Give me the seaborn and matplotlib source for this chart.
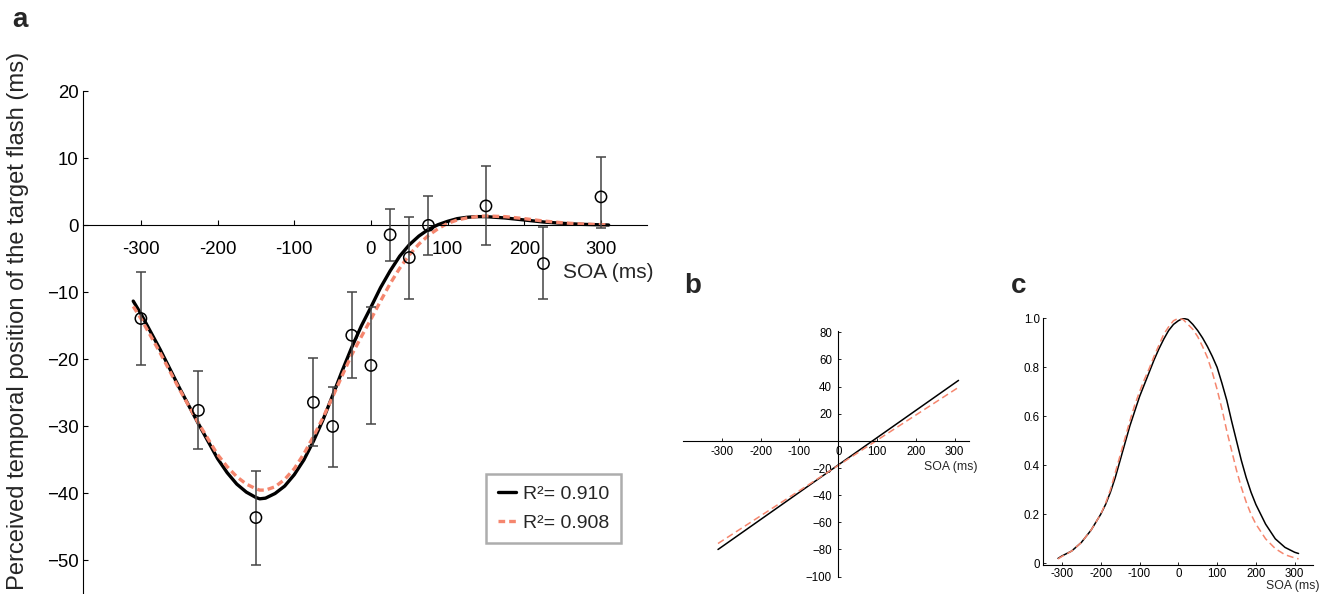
import numpy as np
import pandas as pd
import matplotlib
matplotlib.use("Agg")
import matplotlib.pyplot as plt
import seaborn as sns

# ---------------- data ----------------
# Panel a: observed points
soa = [-300, -225, -150, -75, -50, -25, 0, 25, 50, 75, 150, 225, 300]
perceived = [-13.9, -27.6, -43.6, -26.4, -30.0, -16.4, -20.9, -1.4, -4.8, 0.0, 2.9, -5.7, 4.25]
err_low = [7.0, 5.8, 7.0, 6.5, 6.1, 6.3, 8.7, 3.9, 6.2, 4.4, 5.8, 5.3, 4.6]
err_high = [7.0, 5.9, 6.9, 6.6, 5.9, 6.4, 8.7, 3.9, 6.0, 4.4, 5.9, 5.4, 5.9]

# Panel a: fitted curves
fit_x = [-310, -300, -275, -250, -225, -200, -187.5, -175, -162.5, -150, -145, -137.5,
         -125, -112.5, -100, -87.5, -75, -62.5, -50, -37.5, -25, -12.5, 0, 12.5, 25,
         37.5, 50, 62.5, 75, 87.5, 100, 112.5, 125, 137.5, 150, 175, 200, 225, 250,
         275, 300, 310]
fit_black = [-11.3, -13.2, -18.5, -24.2, -29.6, -34.8, -36.9, -38.6, -39.8, -40.6, -40.8,
             -40.7, -40.0, -38.9, -37.2, -35.0, -32.2, -29.0, -25.4, -21.7, -18.2, -15.0,
             -12.2, -9.3, -6.8, -4.6, -2.9, -1.6, -0.6, 0.1, 0.6, 1.0, 1.2, 1.3, 1.3,
             1.1, 0.8, 0.5, 0.3, 0.15, 0.08, 0.05]
fit_red = [-12.1, -13.9, -19.0, -24.4, -29.5, -34.2, -36.0, -37.5, -38.6, -39.3, -39.5,
           -39.5, -39.0, -37.9, -36.3, -34.1, -31.5, -28.7, -25.6, -22.4, -19.3, -16.6,
           -14.0, -11.3, -8.7, -6.4, -4.4, -2.8, -1.5, -0.5, 0.3, 0.8, 1.1, 1.3, 1.4,
           1.3, 1.0, 0.65, 0.38, 0.2, 0.1, 0.08]
legend_labels = ["R\u00b2= 0.910", "R\u00b2= 0.908"]

# Panel b: linear components
lin_x = [-310, 310]
lin_black = [-80.0, 44.6]
lin_red = [-75.6, 39.5]

# Panel c: gaussian components
gx = [-310, -300, -275, -250, -225, -200, -187.5, -175, -162.5, -150, -137.5, -125,
      -112.5, -100, -87.5, -75, -62.5, -50, -37.5, -25, -12.5, 0, 12.5, 25, 37.5, 50,
      62.5, 75, 87.5, 100, 112.5, 125, 137.5, 150, 162.5, 175, 187.5, 200, 225, 250,
      275, 300, 310]
g_black = [0.02, 0.03, 0.05, 0.085, 0.135, 0.20, 0.24, 0.29, 0.35, 0.42, 0.49, 0.56,
           0.62, 0.68, 0.73, 0.78, 0.83, 0.875, 0.915, 0.95, 0.975, 0.99, 1.0, 0.995,
           0.975, 0.95, 0.92, 0.885, 0.845, 0.80, 0.735, 0.665, 0.58, 0.50, 0.42, 0.35,
           0.29, 0.24, 0.16, 0.10, 0.065, 0.045, 0.04]
g_red = [0.018, 0.028, 0.05, 0.085, 0.135, 0.20, 0.245, 0.30, 0.37, 0.44, 0.51, 0.58,
         0.645, 0.70, 0.75, 0.795, 0.845, 0.89, 0.935, 0.965, 0.99, 1.0, 0.995, 0.975,
         0.955, 0.925, 0.885, 0.84, 0.78, 0.71, 0.63, 0.54, 0.46, 0.38, 0.31, 0.25,
         0.20, 0.16, 0.10, 0.06, 0.035, 0.022, 0.018]

a_xticks = [-300, -200, -100, 0, 100, 200, 300]
a_xticklabels = ["-300", "-200", "-100", "0", "100", "200", "300"]
a_yticks = [20, 10, 0, -10, -20, -30, -40, -50]
a_yticklabels = ["20", "10", "0", "\u221210", "\u221220", "\u221230", "\u221240", "\u221250"]
b_yticks = [80, 60, 40, 20, -20, -40, -60, -80, -100]
b_yticklabels = ["80", "60", "40", "20", "\u221220", "\u221240", "\u221260", "\u221280", "\u2212100"]
c_yticks = [1.0, 0.8, 0.6, 0.4, 0.2, 0]
c_yticklabels = ["1.0", "0.8", "0.6", "0.4", "0.2", "0"]

# ---------------- style ----------------
sns.set_theme(style="white")
plt.rcParams["font.family"] = ["Liberation Sans", "DejaVu Sans"]
plt.rcParams["axes.linewidth"] = 0.8
plt.rcParams["lines.solid_joinstyle"] = "round"
plt.rcParams["lines.dash_joinstyle"] = "round"

RED = "#F5866E"
W, H = 1331, 594
fig = plt.figure(figsize=(W / 100, H / 100), dpi=100)


def rect(l, t, r, b):
    return [l / W, 1 - b / H, (r - l) / W, (b - t) / H]


# ---------------- panel a ----------------
ax = fig.add_axes(rect(83, 91.3, 647, 594))
ax.set_xlim(-375.5, 360)
ax.set_ylim(-55.0, 20)

df_fit = pd.DataFrame({"SOA": fit_x, "black": fit_black, "red": fit_red})
sns.lineplot(data=df_fit, x="SOA", y="black", ax=ax, color="black", lw=2.4,
             sort=False, estimator=None, label=legend_labels[0])
sns.lineplot(data=df_fit, x="SOA", y="red", ax=ax, color=RED, lw=2.4,
             linestyle=(0, (2.0, 1.2)), sort=False, estimator=None, label=legend_labels[1])

ax.errorbar(soa, perceived, yerr=[err_low, err_high], fmt="none", ecolor="#444444",
            elinewidth=1.1, capsize=3.8, capthick=1.1, zorder=3)
df_pts = pd.DataFrame({"SOA": soa, "perceived": perceived})
sns.scatterplot(data=df_pts, x="SOA", y="perceived", ax=ax, marker="o", s=66,
                facecolor="none", edgecolor="black", linewidth=1.1, zorder=4)

for s in ["top", "right"]:
    ax.spines[s].set_visible(False)
ax.spines["bottom"].set_position(("data", 0))
ax.spines["left"].set_color("black")
ax.spines["bottom"].set_color("black")
ax.set_xticks(a_xticks)
ax.set_xticklabels(a_xticklabels)
ax.set_yticks(a_yticks)
ax.set_yticklabels(a_yticklabels)
ax.tick_params(axis="x", direction="in", length=3.4, width=0.8, pad=11, labelsize=13.4,
               colors="black", bottom=True)
ax.tick_params(axis="y", direction="in", length=3.4, width=0.8, pad=3, labelsize=13.4,
               colors="black", left=True)
ax.set_xlabel("")
ax.set_ylabel("")
fig.text(608 / W, 1 - 273 / H, "SOA (ms)", fontsize=15, ha="center", va="center")
fig.text(18 / W, 1 - 321 / H, "Perceived temporal position of the target flash (ms)",
         fontsize=17.1, rotation=90, ha="center", va="center")

leg = ax.legend(loc="upper left", bbox_to_anchor=(486 / W, 1 - 474 / H),
                bbox_transform=fig.transFigure, borderaxespad=0, fontsize=14,
                handlelength=0.95, handletextpad=0.35, labelspacing=0.55, borderpad=0.6,
                frameon=True, fancybox=False)
leg.get_frame().set_edgecolor("#999999")
leg.get_frame().set_linewidth(1.8)

fig.text(12 / W, 1 - 27 / H, "a", fontsize=20, fontweight="bold", ha="left", va="baseline")

# ---------------- panel b ----------------
bx = fig.add_axes(rect(682.7, 331, 969, 577.3))
bx.set_xlim(-401, 337)
bx.set_ylim(-100.5, 81)
df_lin = pd.DataFrame({"SOA": lin_x, "black": lin_black, "red": lin_red})
sns.lineplot(data=df_lin, x="SOA", y="black", ax=bx, color="black", lw=1.1,
             sort=False, estimator=None)
sns.lineplot(data=df_lin, x="SOA", y="red", ax=bx, color=RED, lw=1.1,
             linestyle=(0, (4.5, 2.5)), sort=False, estimator=None)
for s in ["top", "right"]:
    bx.spines[s].set_visible(False)
bx.spines["left"].set_position(("data", 0))
bx.spines["bottom"].set_position(("data", 0))
bx.spines["left"].set_color("black")
bx.spines["bottom"].set_color("black")
bx.set_xticks(a_xticks)
bx.set_xticklabels(a_xticklabels)
bx.set_yticks(b_yticks)
bx.set_yticklabels(b_yticklabels)
bx.tick_params(axis="x", direction="in", length=2, width=0.6, pad=4, labelsize=8.3,
               colors="black", bottom=True)
bx.tick_params(axis="y", direction="in", length=2.5, width=0.6, pad=4.5, labelsize=8.3,
               colors="black", left=True)
bx.set_xlabel("")
bx.set_ylabel("")
fig.text(977 / W, 1 - 467 / H, "SOA (ms)", fontsize=8.8, ha="right", va="center")
fig.text(684 / W, 1 - 293 / H, "b", fontsize=20, fontweight="bold", ha="left", va="baseline")

# ---------------- panel c ----------------
cx = fig.add_axes(rect(1043.3, 318.3, 1313.3, 565))
cx.set_xlim(-348, 348)
cx.set_ylim(-0.0069, 1.0)
df_g = pd.DataFrame({"SOA": gx, "black": g_black, "red": g_red})
sns.lineplot(data=df_g, x="SOA", y="black", ax=cx, color="black", lw=1.1,
             sort=False, estimator=None)
sns.lineplot(data=df_g, x="SOA", y="red", ax=cx, color=RED, lw=1.1,
             linestyle=(0, (4.5, 2.5)), sort=False, estimator=None)
for s in ["top", "right"]:
    cx.spines[s].set_visible(False)
cx.spines["left"].set_color("black")
cx.spines["bottom"].set_color("black")
cx.set_xticks(a_xticks)
cx.set_xticklabels(a_xticklabels)
cx.set_yticks(c_yticks)
cx.set_yticklabels(c_yticklabels)
cx.tick_params(axis="x", direction="in", length=2, width=0.6, pad=2.5, labelsize=8.3,
               colors="black", bottom=True)
cx.tick_params(axis="y", direction="in", length=2.5, width=0.6, pad=2.5, labelsize=8.3,
               colors="black", left=True)
cx.set_xlabel("")
cx.set_ylabel("")
fig.text(1320 / W, 1 - 586 / H, "SOA (ms)", fontsize=8.8, ha="right", va="center")
fig.text(1011 / W, 1 - 293 / H, "c", fontsize=20, fontweight="bold", ha="left", va="baseline")

fig.savefig("out.png", dpi=100, facecolor="white")
